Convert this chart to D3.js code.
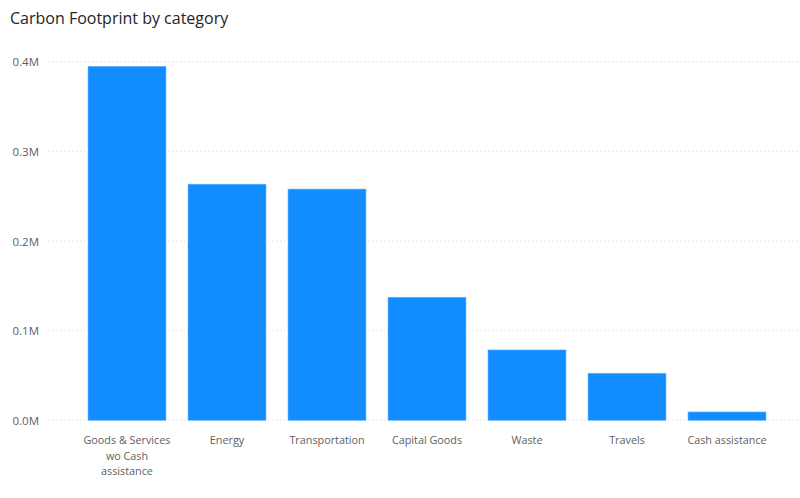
<!DOCTYPE html>
<html><head><meta charset="utf-8">
<script src="https://cdn.jsdelivr.net/npm/d3@7"></script>
<style>body{margin:0;background:#fff;}svg{display:block;}</style>
</head><body>
<svg id="chart" width="800" height="498"></svg>
<script>
const title = "Carbon Footprint by category";
const categories = [["Goods & Services","wo Cash","assistance"],["Energy"],["Transportation"],["Capital Goods"],["Waste"],["Travels"],["Cash assistance"]];
const values = [395000, 263500, 258000, 137300, 78500, 52500, 9300];
const yTicks = [0, 100000, 200000, 300000, 400000];
const tickLabels = ["0.0M","0.1M","0.2M","0.3M","0.4M"];

const svg = d3.select("#chart");
const font = "'Open Sans', 'Segoe UI', sans-serif";
svg.append("text").attr("x", 10).attr("y", 24).text(title)
  .attr("font-family", font).attr("font-size", 16).attr("fill", "#252423");

const x = d3.scaleBand().domain(d3.range(categories.length)).range([77, 777]).paddingInner(0.22).paddingOuter(0.11);
const y = d3.scaleLinear().domain([0, 400000]).range([420.3, 61.8]);

const grid = svg.append("g");
grid.selectAll("line").data(yTicks).join("line")
  .attr("x1", 48).attr("x2", 800).attr("y1", d => y(d)).attr("y2", d => y(d))
  .attr("stroke", "#d9d9d9").attr("stroke-width", 1).attr("stroke-dasharray", "1,3");

const yAxis = d3.axisLeft(y).tickValues(yTicks).tickFormat((d,i) => tickLabels[i]).tickSize(0).tickPadding(0);
const ya = svg.append("g").attr("transform", "translate(39,0)").call(yAxis);
ya.select(".domain").remove();
ya.selectAll("text").attr("font-family", font).attr("font-size", 11.5).attr("fill", "#605E5C").attr("dy", "0.35em");

svg.append("g").selectAll("rect").data(values).join("rect")
  .attr("x", (d,i) => x(i)).attr("width", x.bandwidth())
  .attr("y", d => y(d)).attr("height", d => y(0) - y(d))
  .attr("fill", "#118DFF").attr("stroke", "#6fb8ff").attr("stroke-width", 0.6);

const xAxis = d3.axisBottom(x).tickSize(0).tickFormat(() => "");
const xa = svg.append("g").attr("transform", `translate(0,${y(0)})`).call(xAxis);
xa.select(".domain").remove();
xa.selectAll(".tick").each(function(d){
  const t = d3.select(this).append("text").attr("fill", "#605E5C")
    .attr("font-family", font).attr("font-size", 10.8).attr("text-anchor", "middle");
  categories[d].forEach((line, j) => {
    t.append("tspan").attr("x", 0).attr("y", 24 + j * 15.5).text(line);
  });
});
</script>
</body></html>
